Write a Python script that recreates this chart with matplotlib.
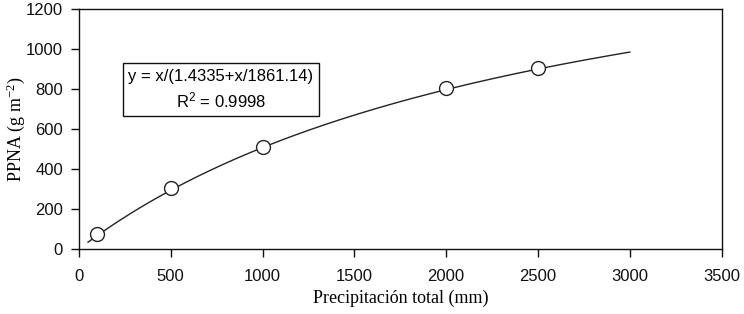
import matplotlib
matplotlib.use('Agg')
import matplotlib.pyplot as plt
import numpy as np

plt.rcParams['mathtext.default'] = 'regular'

# observed points
precip = [100, 500, 1000, 2000, 2500]
ppna = [75, 305, 510, 805, 905]

# fitted hyperbola y = x/(a + x/b), shown in the box
fit_a = 1.4335
fit_b = 1861.14
fit_start, fit_end = 50, 3000

x_ticks = [0, 500, 1000, 1500, 2000, 2500, 3000, 3500]
y_ticks = [0, 200, 400, 600, 800, 1000, 1200]

fig = plt.figure(figsize=(7.44, 3.14), dpi=100)
ax = fig.add_axes([0.106, 0.207, 0.864, 0.764])

xf = np.linspace(fit_start, fit_end, 300)
ax.plot(xf, xf / (fit_a + xf / fit_b), color='#222222', lw=1.0, zorder=2)
ax.plot(precip, ppna, 'o', ms=10, mfc='white', mec='#222222', mew=1.0, zorder=3)

ax.set_xlim(0, 3500)
ax.set_ylim(0, 1200)
ax.set_xticks(x_ticks)
ax.set_yticks(y_ticks)
ax.tick_params(direction='out', length=5.5, width=1, colors='#111111', labelsize=12)
for lab in ax.get_xticklabels() + ax.get_yticklabels():
    lab.set_family('Liberation Sans')
ax.tick_params(axis='x', pad=9)
ax.tick_params(axis='y', pad=6)
for s in ax.spines.values():
    s.set_linewidth(1.0)
    s.set_color('#111111')

ax.set_xlabel('Precipitación total (mm)', family='Liberation Serif', fontsize=13, labelpad=4)
ax.set_ylabel('PPNA (g m$^{-2}$)', family='Liberation Serif', fontsize=13)
ax.yaxis.set_label_coords(-0.081, 0.5)

ax.text(0.221, 0.665, 'y = x/(1.4335+x/1861.14)\nR$^{2}$ = 0.9998', transform=ax.transAxes,
        ha='center', va='center', multialignment='center', family='Liberation Sans',
        fontsize=12, linespacing=1.38,
        bbox=dict(boxstyle='square,pad=0.33', fc='white', ec='#111111', lw=1.0))

fig.savefig('out.png', dpi=100)
